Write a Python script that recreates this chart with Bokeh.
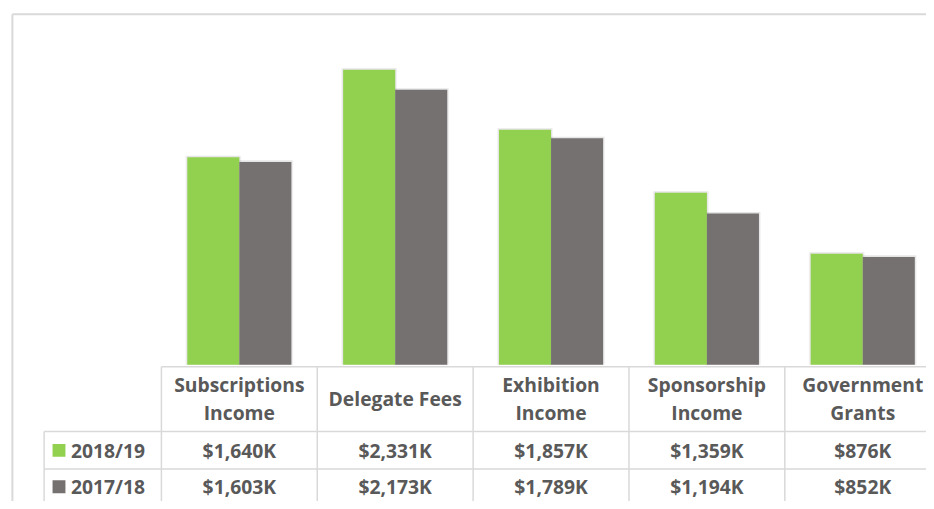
from bokeh.plotting import figure
from bokeh.models import Range1d
from bokeh.core.properties import value
from bokeh.embed import file_html
from bokeh.resources import INLINE

# ---- data ----
categories = ["Subscriptions Income", "Delegate Fees", "Exhibition Income",
              "Sponsorship Income", "Government Grants"]
header_lines = [["Subscriptions", "Income"], ["Delegate Fees"], ["Exhibition", "Income"],
                ["Sponsorship", "Income"], ["Government", "Grants"]]
series_names = ["2018/19", "2017/18"]
values_2018 = [1640, 2331, 1857, 1359, 876]
values_2017 = [1603, 2173, 1789, 1194, 852]
colors = ["#92D050", "#767171"]

W, H = 926, 501          # figure size (fits the window)
RW, RH = 934, 509        # layout units (reference picture size)
FONT = "Open Sans"
FS = "19.3px"
TXT = "#595959"
LINE = "#D9D9D9"

p = figure(width=W, height=H, output_backend="svg", toolbar_location=None,
           x_range=Range1d(-1.0324, 4.909), y_range=Range1d(-1082, 2879),
           min_border=0, outline_line_color=None)
p.axis.visible = False
p.grid.visible = False
p.extra_y_ranges = {"px": Range1d(RH, 0)}
p.extra_x_ranges = {"px": Range1d(0, RW)}

n = len(categories)
xc = [i + 0.5 for i in range(n)]
bw = 0.334

# subtle shadows
for off in (0.012, 0.024):
    p.vbar(x=[x - bw / 2 for x in xc], width=bw + off, top=[v + 12 for v in values_2018], bottom=0,
           fill_color="#000000", fill_alpha=0.05, line_color=None)
    p.vbar(x=[x + bw / 2 for x in xc], width=bw + off, top=[v + 12 for v in values_2017], bottom=0,
           fill_color="#000000", fill_alpha=0.05, line_color=None)

p.vbar(x=[x - bw / 2 for x in xc], width=bw, top=values_2018, bottom=0,
       fill_color=colors[0], line_color=None)
p.vbar(x=[x + bw / 2 for x in xc], width=bw, top=values_2017, bottom=0,
       fill_color=colors[1], line_color=None)

# outer chart border (cropped)
p.segment(x0=[12, 12], y0=[14, 14], x1=[12, RW + 10], y1=[RH + 10, 14],
          x_range_name="px", y_range_name="px", line_color=LINE, line_width=2)

# data table grid
hdr_top, r1_top, r2_top, tbl_bot = 372, 438, 476, 530
leg_left = 44
p.segment(x0=[0], y0=[hdr_top], x1=[n + 1], y1=[hdr_top], y_range_name="px",
          line_color=LINE, line_width=1.5)
p.segment(x0=[leg_left, leg_left], y0=[r1_top, r2_top], x1=[RW + 10, RW + 10], y1=[r1_top, r2_top],
          x_range_name="px", y_range_name="px", line_color=LINE, line_width=1.5)
p.segment(x0=list(range(n + 1)), y0=[hdr_top] * (n + 1), x1=list(range(n + 1)),
          y1=[tbl_bot] * (n + 1), y_range_name="px", line_color=LINE, line_width=1.5)
p.segment(x0=[leg_left], y0=[r1_top], x1=[leg_left], y1=[tbl_bot],
          x_range_name="px", y_range_name="px", line_color=LINE, line_width=1.5)

# header text
hx, hy, ht = [], [], []
for i, lines in enumerate(header_lines):
    if len(lines) == 2:
        hx += [xc[i], xc[i]]
        hy += [390, 419]
        ht += lines
    else:
        hx.append(xc[i])
        hy.append(404)
        ht.append(lines[0])
p.text(x=hx, y=hy, text=ht, y_range_name="px", text_font=value(FONT),
       text_font_style="bold", text_font_size=FS, text_color=TXT,
       text_align="center", text_baseline="middle")

fmt = lambda v: "${:,}K".format(v)
row_y = [457, 494]
for vals, ry in zip([values_2018, values_2017], row_y):
    p.text(x=xc, y=[ry] * n, text=[fmt(v) for v in vals], y_range_name="px",
           text_font=value(FONT), text_font_style="bold", text_font_size=FS,
           text_color=TXT, text_align="center", text_baseline="middle")

# legend keys in table
p.rect(x=[59, 59], y=row_y, width=13, height=13, x_range_name="px", y_range_name="px",
       fill_color=colors, line_color=None)
p.text(x=[71, 71], y=row_y, text=series_names, x_range_name="px", y_range_name="px",
       text_font=value(FONT), text_font_style="bold", text_font_size=FS,
       text_color=TXT, text_align="left", text_baseline="middle")

open("out.html", "w").write(file_html(p, INLINE))
